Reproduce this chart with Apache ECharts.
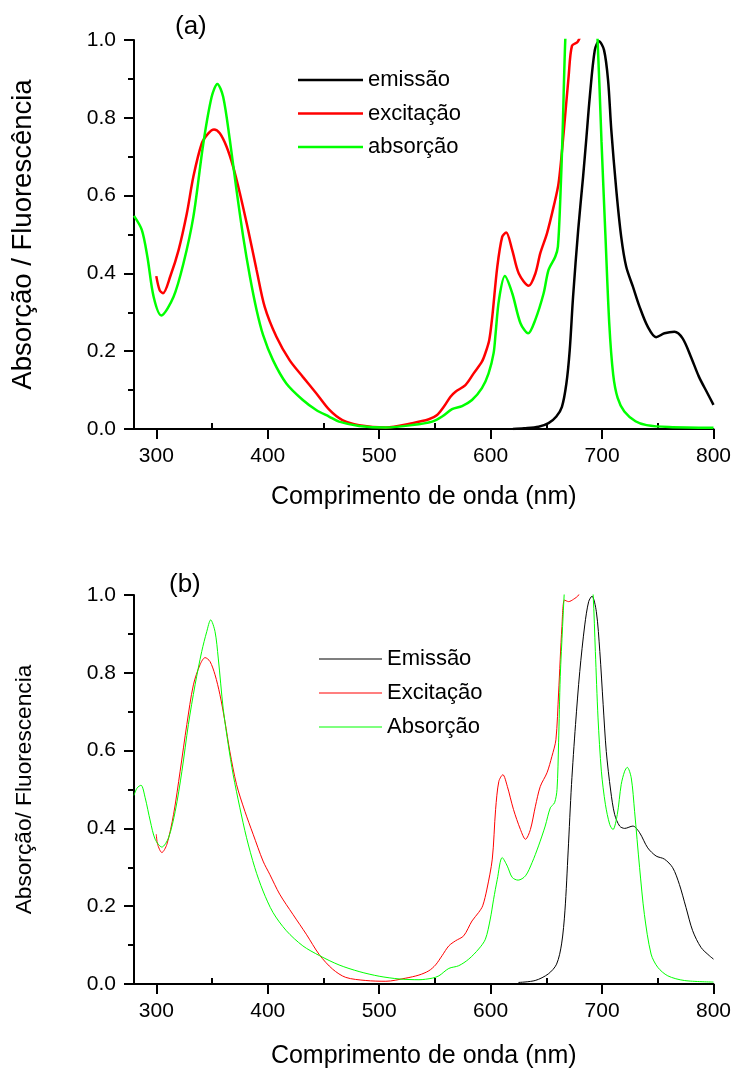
<!DOCTYPE html>
<html>
<head>
<meta charset="utf-8">
<script src="https://cdn.jsdelivr.net/npm/echarts@6/dist/echarts.min.js"></script>
<style>
  html, body { margin: 0; padding: 0; background: #fff; }
  #chart { width: 734px; height: 1070px; }
</style>
</head>
<body>
<div id="chart"></div>
<script>
// Wavelength ticks (nm)
const majorTicks = [300, 400, 500, 600, 700, 800];
const minorTicks = [350, 450, 550, 650, 750];

// Panel (a): [wavelength nm, normalised intensity]
const emissaoA = [[620,0.0],[630,0.002],[643,0.006],[652,0.015],[659,0.032],[664,0.057],[668,0.117],[671,0.203],[674,0.34],[678.6,0.512],[683,0.649],[686,0.75],[689,0.854],[693.5,0.974],[697.3,0.997],[701.8,0.974],[705.4,0.897],[708.3,0.769],[712.8,0.614],[717.2,0.494],[721.7,0.417],[727.7,0.366],[733.7,0.314],[741,0.263],[748.5,0.236],[756,0.246],[765,0.25],[772.3,0.233],[779.7,0.186],[787,0.134],[794.6,0.092],[800,0.062]];
const excitacaoA = [[300,0.393],[303,0.357],[306,0.349],[312.5,0.392],[320,0.46],[327.4,0.554],[333.3,0.649],[340.8,0.734],[346.7,0.76],[351.8,0.77],[357,0.76],[363,0.726],[369,0.674],[375,0.606],[382.4,0.512],[390,0.409],[397.3,0.314],[407.8,0.237],[419.6,0.177],[431.5,0.134],[443.5,0.092],[455.4,0.049],[467,0.023],[482,0.01],[506,0.004],[529.7,0.015],[544.6,0.025],[552,0.036],[558,0.057],[564,0.083],[568.5,0.096],[577.4,0.113],[584.8,0.143],[592.2,0.173],[595.3,0.195],[598.8,0.229],[601.5,0.289],[606,0.417],[610.4,0.494],[614,0.505],[619.4,0.46],[625.3,0.4],[634.2,0.368],[640.2,0.4],[644.6,0.452],[650.6,0.503],[656.5,0.571],[661,0.632],[665.5,0.76],[670,0.906],[673,0.985],[678,0.995],[682,1.02],[686,1.06]];
const absorcaoA = [[280,0.548],[287,0.512],[292,0.443],[297.6,0.34],[304.5,0.292],[315.5,0.34],[324.4,0.426],[333.3,0.546],[342.2,0.734],[349.7,0.854],[354.8,0.887],[360,0.854],[366,0.743],[372,0.614],[378,0.494],[384,0.392],[390,0.306],[395.8,0.242],[404.7,0.177],[416.7,0.117],[431.5,0.0745],[443.5,0.049],[455,0.032],[464,0.019],[482,0.008],[506,0.004],[529.7,0.01],[547.6,0.019],[556.5,0.032],[565.4,0.051],[574.4,0.059],[583.3,0.0745],[592.2,0.105],[598.2,0.143],[602.7,0.195],[604.5,0.246],[607.5,0.332],[612.8,0.393],[619.4,0.349],[626.8,0.272],[633.7,0.246],[640,0.28],[647.6,0.349],[652,0.409],[658,0.443],[660.4,0.469],[662.5,0.589],[664.6,0.76],[667,1.0],[672,1.3],[680,1.6],[690,1.3],[696,1.0],[699.5,0.74],[703,0.5],[706.5,0.27],[710,0.14],[714,0.08],[720,0.045],[730,0.02],[740,0.01],[760,0.005],[800,0.003]];

// Panel (b)
const emissaoB = [[625,0.004],[640,0.009],[651.8,0.026],[659.2,0.051],[663.7,0.103],[666.7,0.188],[669.6,0.342],[672.6,0.513],[676.2,0.667],[680,0.803],[684.5,0.923],[688,0.983],[691,0.997],[694.9,0.957],[698,0.855],[701,0.718],[703.8,0.598],[707.8,0.496],[711.3,0.436],[715.8,0.406],[720.3,0.4],[727.7,0.406],[733.7,0.389],[741,0.35],[748.5,0.329],[756,0.321],[763.4,0.299],[769.4,0.256],[775.3,0.197],[781.3,0.137],[788.8,0.094],[796.2,0.073],[800,0.064]];
const excitacaoB = [[300,0.385],[301.2,0.359],[305,0.338],[309.5,0.359],[315.5,0.436],[321.4,0.547],[327.4,0.667],[333.3,0.769],[339.3,0.821],[343.8,0.839],[348.2,0.829],[352.7,0.795],[357.1,0.744],[361.6,0.675],[366,0.598],[372,0.513],[379.5,0.444],[386.9,0.385],[395.8,0.316],[401.8,0.282],[410.7,0.231],[422.6,0.179],[434.6,0.128],[446.4,0.075],[458.3,0.038],[470,0.017],[488,0.009],[506,0.007],[523.8,0.015],[535.7,0.023],[544.6,0.034],[550.6,0.049],[556.5,0.073],[562.5,0.098],[568.5,0.111],[575.9,0.124],[583.3,0.162],[589.3,0.184],[592.9,0.201],[596.7,0.244],[601.5,0.321],[604.5,0.449],[607.4,0.521],[611,0.538],[615,0.508],[620.5,0.449],[626.8,0.397],[631.3,0.372],[635.7,0.397],[640.2,0.457],[644.6,0.508],[650.6,0.543],[655,0.585],[658.6,0.628],[661,0.748],[664,0.919],[666.3,0.987],[670,0.983],[674.4,0.989],[679,1.0],[683,1.03]];
const absorcaoB = [[280,0.485],[282.8,0.504],[286.3,0.511],[290,0.479],[294.6,0.419],[299,0.372],[305,0.352],[311,0.376],[317,0.444],[323,0.547],[328.8,0.667],[334.8,0.769],[340.8,0.855],[345.3,0.906],[348.8,0.936],[352.7,0.906],[355.6,0.838],[360,0.709],[364.6,0.615],[369,0.538],[375,0.453],[381,0.376],[388.4,0.299],[395.8,0.239],[404.7,0.184],[416.7,0.137],[431.5,0.098],[446.4,0.073],[464,0.049],[482,0.032],[500,0.02],[517.9,0.013],[535.7,0.011],[547.6,0.015],[553.6,0.021],[562.5,0.04],[571.4,0.047],[580.4,0.064],[589.3,0.09],[595.3,0.115],[599.7,0.167],[602.7,0.218],[606,0.269],[610.4,0.325],[615,0.303],[619.4,0.274],[624.7,0.267],[631.3,0.278],[637.2,0.312],[643,0.355],[649,0.406],[653.6,0.453],[657.4,0.466],[659.6,0.5],[661,0.62],[662.5,0.79],[664.6,0.919],[666,1.0],[670,1.2],[680,1.35],[688,1.15],[692,1.0],[694,0.855],[696.4,0.684],[699.4,0.547],[703,0.462],[706.9,0.41],[709.8,0.397],[713.7,0.436],[717.2,0.513],[720.3,0.547],[722.6,0.557],[726.2,0.53],[729.2,0.444],[733.7,0.299],[738,0.179],[744,0.077],[750,0.043],[759,0.021],[773.8,0.009],[800,0.005]];

const FONT = "'Liberation Sans', Arial, sans-serif";
const BLACK = '#000000', RED = '#ff0000', GREEN = '#00ff00';

function mainXAxis(grid, gap) {
  return {
    type: 'value', gridIndex: grid, min: 280, max: 800,
    name: 'Comprimento de onda (nm)', nameLocation: 'middle', nameGap: gap,
    nameTextStyle: { fontFamily: FONT, fontSize: 25, color: BLACK },
    axisLine: { show: true, onZero: false, lineStyle: { color: BLACK, width: 2 } },
    axisTick: { show: true, customValues: majorTicks, length: 10, lineStyle: { color: BLACK, width: 2 } },
    axisLabel: { customValues: majorTicks, margin: 17, fontFamily: FONT, fontSize: 21, color: BLACK },
    splitLine: { show: false }
  };
}
function minorXAxis(grid) {
  return {
    type: 'value', gridIndex: grid, min: 280, max: 800,
    axisLine: { show: false },
    axisTick: { show: true, customValues: minorTicks, length: 6, lineStyle: { color: BLACK, width: 2 } },
    axisLabel: { show: false },
    splitLine: { show: false }
  };
}
function yAxis(grid, title, size, gap) {
  return {
    type: 'value', gridIndex: grid, min: 0, max: 1, interval: 0.2,
    name: title, nameLocation: 'middle', nameGap: gap,
    nameTextStyle: { fontFamily: FONT, fontSize: size, color: BLACK },
    axisLine: { show: true, onZero: false, lineStyle: { color: BLACK, width: 2 } },
    axisTick: { show: true, length: 10, lineStyle: { color: BLACK, width: 2 } },
    minorTick: { show: true, splitNumber: 2, length: 6, lineStyle: { color: BLACK, width: 2 } },
    axisLabel: { margin: 18, fontFamily: FONT, fontSize: 21, color: BLACK, formatter: v => v.toFixed(1) },
    splitLine: { show: false }
  };
}
function line(name, data, color, width, xi, yi) {
  return {
    type: 'line', name: name, data: data, xAxisIndex: xi, yAxisIndex: yi,
    showSymbol: false, symbol: 'none', smooth: 0.3, clip: true,
    lineStyle: { color: color, width: width }, itemStyle: { color: color },
    animation: false
  };
}
// Vertical legend with plain line keys (a thin filled rect per entry)
function legend(names, left, top, gap, itemWidth, lw) {
  return {
    orient: 'vertical', left: left, top: top, padding: 0,
    icon: 'rect', itemGap: gap, itemWidth: itemWidth, itemHeight: lw,
    data: names,
    textStyle: { fontFamily: FONT, fontSize: 22, color: BLACK, lineHeight: 22 },
    selectedMode: false
  };
}

const chart = echarts.init(document.getElementById('chart'), null, { renderer: 'canvas' });
chart.setOption({
  animation: false,
  backgroundColor: '#ffffff',
  title: [
    { text: '(a)', left: 175, top: 14, padding: 0, textStyle: { fontFamily: FONT, fontSize: 26, fontWeight: 'normal', color: BLACK } },
    { text: '(b)', left: 169, top: 572, padding: 0, textStyle: { fontFamily: FONT, fontSize: 26, fontWeight: 'normal', color: BLACK } }
  ],
  grid: [
    { left: 134, top: 40, width: 582, height: 389 },
    { left: 134, top: 595, width: 582, height: 390 }
  ],
  xAxis: [mainXAxis(0, 56), minorXAxis(0), mainXAxis(1, 60), minorXAxis(1)],
  yAxis: [yAxis(0, 'Absorção / Fluorescência', 27.5, 97), yAxis(1, 'Absorção/ Fluorescencia', 22.7, 98)],
  legend: [
    legend(['emissão', 'excitação', 'absorção'], 298, 69, 11.5, 65, 2.5),
    legend(['Emissão', 'Excitação', 'Absorção'], 319, 648, 12, 63, 1.2)
  ],
  series: [
    line('emissão', emissaoA, BLACK, 2.5, 0, 0),
    line('excitação', excitacaoA, RED, 2.5, 0, 0),
    line('absorção', absorcaoA, GREEN, 2.5, 0, 0),
    line('Emissão', emissaoB, BLACK, 1, 2, 1),
    line('Excitação', excitacaoB, RED, 1, 2, 1),
    line('Absorção', absorcaoB, GREEN, 1, 2, 1)
  ]
});
</script>
</body>
</html>
